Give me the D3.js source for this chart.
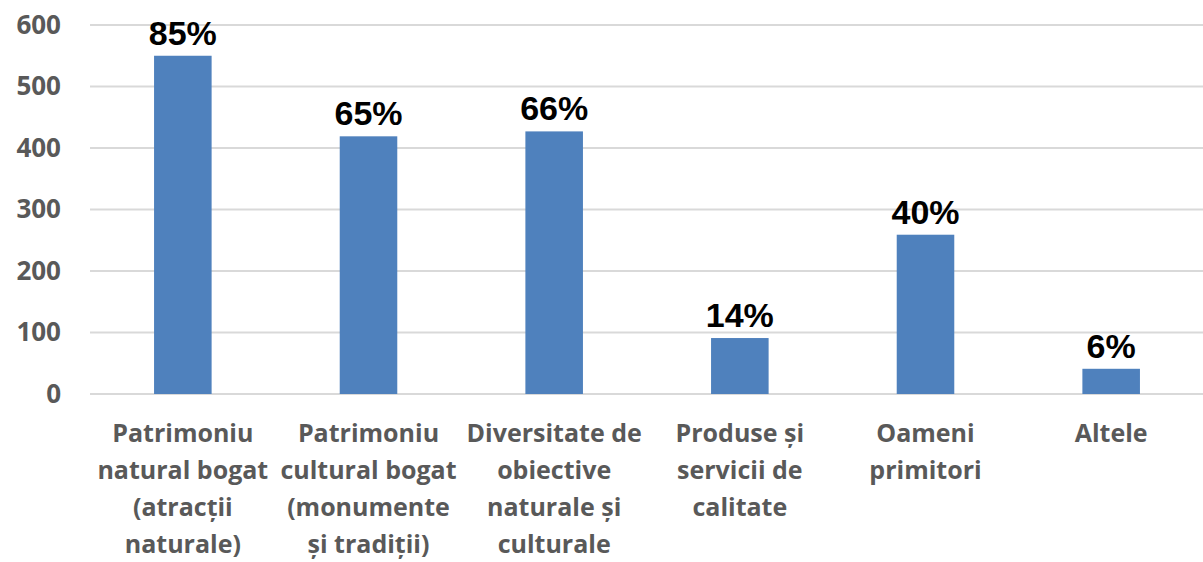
<!DOCTYPE html>
<html>
<head>
<meta charset="utf-8">
<script src="https://cdn.jsdelivr.net/npm/d3@7"></script>
<style>
  body { margin: 0; background: #fff; }
</style>
</head>
<body>
<div class="container"></div>
<script>
// Data
const categories = [
  ['Patrimoniu', 'natural bogat', '(atracții', 'naturale)'],
  ['Patrimoniu', 'cultural bogat', '(monumente', 'și tradiții)'],
  ['Diversitate de', 'obiective', 'naturale și', 'culturale'],
  ['Produse și', 'servicii de', 'calitate'],
  ['Oameni', 'primitori'],
  ['Altele'],
];
const values = [550, 419, 427, 91, 259, 41];
const percentLabels = ['85%', '65%', '66%', '14%', '40%', '6%'];
const yTicks = [0, 100, 200, 300, 400, 500, 600];

// Constants
const width = 1203;
const height = 562;
const plotLeft = 90;
const plotRight = 1204;
const plotTop = 25;
const plotBottom = 394;
const labelFont = '"Open Sans", Lato, sans-serif';

const svg = d3
  .select('.container')
  .append('svg')
  .attr('width', width)
  .attr('height', height);

const x = d3
  .scaleBand()
  .domain(d3.range(categories.length))
  .range([plotLeft, plotRight])
  .paddingInner(0.69)
  .paddingOuter(0.345);

const y = d3.scaleLinear().domain([0, 600]).range([plotBottom, plotTop]);

// Grid lines
svg
  .append('g')
  .selectAll('line')
  .data(yTicks)
  .enter()
  .append('line')
  .attr('x1', plotLeft)
  .attr('x2', width)
  .attr('y1', (d) => y(d))
  .attr('y2', (d) => y(d))
  .attr('stroke', '#d9d9d9')
  .attr('stroke-width', 2);

// Y axis labels
const yAxis = d3.axisLeft(y).tickValues(yTicks).tickSize(0).tickPadding(0);
const yG = svg
  .append('g')
  .attr('transform', `translate(61,0)`)
  .call(yAxis);
yG.select('.domain').remove();
yG.selectAll('text')
  .attr('fill', '#595959')
  .style('font-family', labelFont)
  .style('font-weight', 'bold')
  .style('font-size', '26px');

// Bars
svg
  .append('g')
  .selectAll('rect')
  .data(values)
  .enter()
  .append('rect')
  .attr('x', (d, i) => x(i))
  .attr('y', (d) => y(d))
  .attr('width', x.bandwidth())
  .attr('height', (d) => y(0) - y(d))
  .attr('fill', '#4f81bd');

// Percent labels
svg
  .append('g')
  .selectAll('text')
  .data(values)
  .enter()
  .append('text')
  .attr('x', (d, i) => x(i) + x.bandwidth() / 2)
  .attr('y', (d) => y(d) - 11)
  .attr('text-anchor', 'middle')
  .style('font-family', '"Liberation Sans", Arial, sans-serif')
  .style('font-weight', 'bold')
  .style('font-size', '34px')
  .attr('fill', '#000')
  .text((d, i) => percentLabels[i]);

// Category labels
const catG = svg
  .append('g')
  .selectAll('text')
  .data(categories)
  .enter()
  .append('text')
  .attr('x', (d, i) => x(i) + x.bandwidth() / 2)
  .attr('y', 442)
  .attr('text-anchor', 'middle')
  .attr('fill', '#595959')
  .style('font-family', labelFont)
  .style('font-weight', 'bold')
  .style('font-size', '25px');

catG
  .selectAll('tspan')
  .data((d) => d)
  .enter()
  .append('tspan')
  .attr('x', function () {
    return d3.select(this.parentNode).attr('x');
  })
  .attr('dy', (d, i) => (i === 0 ? 0 : 37))
  .text((d) => d);
</script>
</body>
</html>
